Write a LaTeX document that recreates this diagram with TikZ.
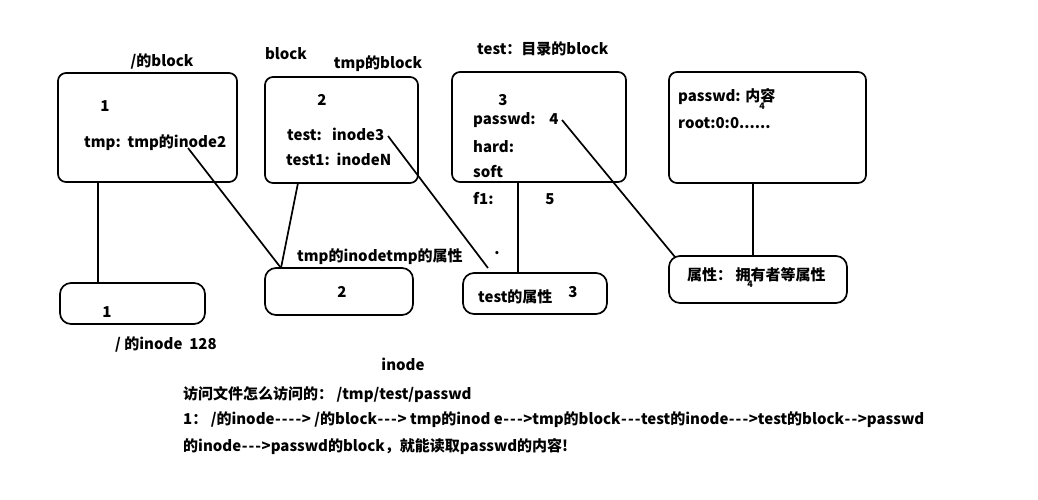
\documentclass[tikz,border=0pt]{standalone}
\usepackage{fontspec}
\setmainfont{Noto Sans CJK SC}[Ligatures=TeXOff]
\newcommand\hyw{\hbox to 6.8pt{\hss-\hss}}
\begin{document}
\begin{tikzpicture}[x=1pt,y=-1pt,
  blk/.style={draw,line width=1.7pt,rounded corners=8pt,inner sep=0pt},
  ino/.style={draw,line width=1.7pt,rounded corners=11pt,inner sep=0pt},
  txt/.style={inner sep=0pt,font=\fontsize{15}{17}\selectfont\bfseries},
  tiny/.style={inner sep=0pt,font=\fontsize{9}{10}\selectfont\bfseries},
  conn/.style={line width=1.7pt}]
\useasboundingbox[fill=white] (0,0) rectangle (1038,499);
% blocks
\node[blk,minimum width=179pt,minimum height=109pt] (b1) at (147.5,127.5) {};
\node[blk,minimum width=153pt,minimum height=106pt] (b2) at (341.5,130) {};
\node[blk,minimum width=174pt,minimum height=110pt] (b3) at (539,127) {};
\node[blk,minimum width=197pt,minimum height=111pt] (b4) at (767.5,127.5) {};
% inodes
\node[ino,minimum width=145pt,minimum height=41pt] (i1) at (132.5,303.5) {};
\node[ino,minimum width=148pt,minimum height=47pt] (i2) at (339,291.5) {};
\node[ino,minimum width=144pt,minimum height=41pt] (i3) at (535,293.5) {};
\node[ino,minimum width=178pt,minimum height=47pt] (i4) at (758,279.5) {};
% labels above blocks
\node[txt] (l1) at (162,61) {/的block};
\node[txt] (l2) at (286,54) {block};
\node[txt] (l3) at (378,64) {tmp的block};
\node[txt,anchor=west] (l4) at (477,49) {test：目录的block};
% block 1
\node[txt] (n1) at (105,106) {1};
\node[txt,anchor=west] (t1) at (84,143) {tmp:\ \ tmp的inode2};
% block 2
\node[txt] (n2) at (322,100) {2};
\node[txt,anchor=west] (t2) at (287,134) {test:\ \ \ inode3};
\node[txt,anchor=west] (t3) at (286,159) {test1:\ \ inodeN};
% block 3
\node[txt] (n3) at (503,100) {3};
\node[txt,anchor=west] (t4) at (473,120) {passwd:\ \ \ \ 4};
\node[txt,anchor=west] (t5) at (473,147) {hard:};
\node[txt,anchor=west] (t6) at (473,172) {soft};
\node[txt,anchor=west] (t7) at (473,199) {f1:};
\node[txt] (t8) at (550,199) {5};
% block 4
\node[txt,anchor=west] (t9) at (678,97) {passwd: 内容};
\node[tiny] (t10) at (762,106) {4};
\node[txt,anchor=west] (t11) at (678,123) {root:0:0......};
% inode texts
\node[txt] (m1) at (107,312) {1};
\node[txt,anchor=west] (m2) at (115,344) {/ 的inode\ \ 128};
\node[txt,anchor=west] (m3) at (297,257) {tmp的inodetmp的属性};
\node[txt] (m4) at (342,292) {2};
\node[txt] (m5) at (403,364) {inode};
\node[txt,anchor=west] (m6) at (478,297) {test的属性};
\node[txt] (m7) at (573,292) {3};
\node[txt] (m8) at (497,253) {.};
\node[txt,anchor=west] (m9) at (687,275) {属性：\ 拥有者等属性};
\node[tiny] (m10) at (750,284) {4};
% bottom explanation
\node[txt,anchor=west] (e1) at (183,395) {访问文件怎么访问的：\ /tmp/test/passwd};
\node[txt,anchor=west] (e2) at (183,420) {1：\ /的inode\hyw\hyw\hyw\hyw> /的block\hyw\hyw\hyw> tmp的inod e\hyw\hyw\hyw>tmp的block\hyw\hyw\hyw test的inode\hyw\hyw\hyw>test的block\hyw\hyw>passwd};
\node[txt,anchor=west] (e3) at (183,447) {的inode\hyw\hyw\hyw>passwd的block，就能读取passwd的内容!};
% connector helpers
\coordinate (x98) at (98,0);
\coordinate (x518) at (518,0);
\coordinate (x753) at (753,0);
\coordinate (p1) at (188,148);
\coordinate (p2) at (298,183);
\coordinate (q2) at (281,268);
\coordinate (p3) at (388,136);
\coordinate (q3) at (488,268);
\coordinate (p4) at (562,120);
\coordinate (q4) at (675,257);
% connectors
\draw[conn] (b1.south -| x98) -- (i1.north -| x98);
\draw[conn] (p1) -- (q2);
\draw[conn] (p2) -- (q2);
\draw[conn] (p3) -- (q3);
\draw[conn] (b3.south -| x518) -- (i3.north -| x518);
\draw[conn] (p4) -- (q4);
\draw[conn] (b4.south -| x753) -- (i4.north -| x753);
\end{tikzpicture}
\end{document}
